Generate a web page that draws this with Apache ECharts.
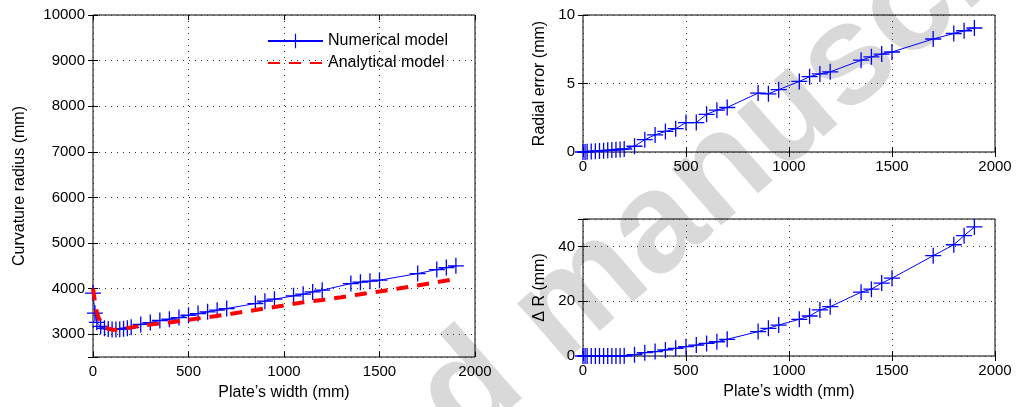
<!DOCTYPE html>
<html>
<head>
<meta charset="utf-8">
<script src="https://cdn.jsdelivr.net/npm/echarts@6/dist/echarts.min.js"></script>
<style>
html,body{margin:0;padding:0;background:#fff;}
#chart{width:1016px;height:407px;}
</style>
</head>
<body>
<div id="chart"></div>
<script>
// ---------- DATA ----------
const plateWidths = [0, 10, 20, 40, 60, 80, 100, 120, 140, 160, 180, 200, 250, 300, 350, 400, 450, 500, 550, 600, 650, 700, 850, 900, 950, 1050, 1100, 1150, 1200, 1350, 1400, 1450, 1500, 1700, 1800, 1850, 1900];
const curvatureNumerical = [3900, 3460, 3260, 3170, 3130, 3115, 3105, 3105, 3110, 3120, 3130, 3150, 3215, 3255, 3300, 3330, 3365, 3416, 3453, 3490, 3526, 3563, 3672, 3724, 3768, 3841, 3877, 3928, 3965, 4111, 4140, 4162, 4184, 4330, 4418, 4462, 4499];
const analyticalWidths = [0, 10, 20, 30, 40, 60, 80, 100, 130, 160, 200, 250, 300, 400, 500, 600, 700, 800, 900, 1000, 1100, 1200, 1300, 1400, 1500, 1600, 1700, 1800, 1900];
const curvatureAnalytical = [4000, 3720, 3480, 3350, 3270, 3170, 3120, 3100, 3100, 3120, 3150, 3180, 3210, 3258, 3318, 3373, 3433, 3497, 3563, 3630, 3698, 3750, 3810, 3876, 3938, 4003, 4070, 4140, 4215];
const radialError = [0, 0, 0.02, 0.04, 0.06, 0.08, 0.1, 0.12, 0.14, 0.16, 0.19, 0.22, 0.42, 0.9, 1.25, 1.5, 1.7, 2.15, 2.15, 2.75, 3.05, 3.25, 4.3, 4.25, 4.55, 5.15, 5.5, 5.7, 5.85, 6.7, 6.95, 7.15, 7.3, 8.25, 8.65, 8.85, 9.05];
const deltaR = [0, 0, 0, 0, 0, 0, 0, 0, 0, 0, 0, 0.1, 0.5, 1.2, 1.6, 2.2, 2.8, 3.4, 4.0, 4.6, 5.2, 6.1, 8.9, 10.1, 11.3, 13.4, 14.6, 16.8, 18.0, 23.3, 24.4, 26.6, 28.4, 36.6, 40.6, 43.9, 47.1];

const xTicksInterval = 500;
const legendNames = ['Numerical model', 'Analytical model'];
const xName = 'Plate\u2019s width (mm)';
const yNames = ['Curvature radius (mm)', 'Radial error (mm)', '\u0394 R (mm)'];
const watermarkText = 'Accepted manuscript';

// ---------- BUILD ----------
const FONT = '"Liberation Sans", Arial, Helvetica, sans-serif';
const zip = (xs, ys) => xs.map((x, i) => [x, ys[i]]);
const plusPath = 'path://M-0.65,-8L0.65,-8L0.65,-0.65L8,-0.65L8,0.65L0.65,0.65L0.65,8L-0.65,8L-0.65,0.65L-8,0.65L-8,-0.65L-0.65,-0.65Z';
const gridLine = {show: true, lineStyle: {color: '#333', width: 1, type: [1, 5]}};
const tickIn = {show: true, inside: true, length: 5, lineStyle: {color: '#000', width: 1}};

const grids = [
  {left: 93, top: 15, width: 382, height: 342},
  {left: 583, top: 15, width: 412, height: 137},
  {left: 583, top: 219, width: 412, height: 137}
].map(g => Object.assign(g, {show: true, borderColor: '#000', borderWidth: 1, backgroundColor: 'transparent', containLabel: false}));

const yRanges = [
  {min: 2500, max: 10000, splitNumber: 7, hide: [2500]},
  {min: 0, max: 10, interval: 5, hide: []},
  {min: 0, max: 50, interval: 20, hide: [50]}
];

const xAxes = [], yAxes = [];
for (let g = 0; g < 3; g++) {
  xAxes.push({
    type: 'value', gridIndex: g, min: 0, max: 2000, interval: xTicksInterval,
    axisLine: {show: false}, axisTick: tickIn, splitLine: gridLine,
    axisLabel: {color: '#000', fontFamily: FONT, fontSize: 15, margin: 7, formatter: v => String(v)},
    name: g === 1 ? '' : xName, nameLocation: 'middle', nameGap: 28,
    nameTextStyle: {color: '#000', fontFamily: FONT, fontSize: 16}
  });
  const r = yRanges[g];
  const yCfg = {
    type: 'value', gridIndex: g, min: r.min, max: r.max,
    axisLine: {show: false}, axisTick: tickIn, splitLine: gridLine,
    axisLabel: {color: '#000', fontFamily: FONT, fontSize: 15, margin: 8,
      formatter: v => (r.hide.indexOf(v) >= 0 ? '' : String(v))},
    name: yNames[g], nameLocation: 'middle', nameGap: g === 0 ? 65 : 35,
    nameTextStyle: {color: '#000', fontFamily: FONT, fontSize: 16}
  };
  if (r.interval) yCfg.interval = r.interval; else yCfg.splitNumber = r.splitNumber;
  yAxes.push(yCfg);
}
// mirror axes (ticks on top and right edges)
for (let g = 0; g < 3; g++) {
  xAxes.push({type: 'value', gridIndex: g, position: 'top', min: 0, max: 2000, interval: xTicksInterval,
    axisLine: {show: false}, axisTick: tickIn, splitLine: {show: false}, axisLabel: {show: false}});
  const r = yRanges[g];
  const yCfg = {type: 'value', gridIndex: g, position: 'right', min: r.min, max: r.max,
    axisLine: {show: false}, axisTick: tickIn, splitLine: {show: false}, axisLabel: {show: false}};
  if (r.interval) yCfg.interval = r.interval; else yCfg.splitNumber = r.splitNumber;
  yAxes.push(yCfg);
}

const numStyle = (name, xi, yi, values) => ({
  name: name, type: 'line', xAxisIndex: xi, yAxisIndex: yi,
  data: zip(plateWidths, values),
  symbol: plusPath, symbolSize: 16, showAllSymbol: true,
  itemStyle: {color: '#0000ff'},
  lineStyle: {color: '#0000ff', width: 1},
  animation: false, z: 3
});

const option = {
  animation: false,
  backgroundColor: '#fff',
  textStyle: {fontFamily: FONT},
  grid: grids,
  xAxis: xAxes,
  yAxis: yAxes,
  legend: {
    data: [legendNames[0], {name: legendNames[1], itemStyle: {opacity: 0}}],
    orient: 'vertical', left: 262, top: 28,
    itemWidth: 55, itemHeight: 18, itemGap: 6,
    textStyle: {color: '#000', fontFamily: FONT, fontSize: 16},
    selectedMode: false
  },
  graphic: [{
    type: 'text', x: 21, y: 782, rotation: 41 * Math.PI / 180, z: -10, silent: true,
    style: {text: watermarkText, fill: '#d9d9d9', font: 'bold 142px ' + FONT, textAlign: 'left', textVerticalAlign: 'middle'}
  }],
  series: [
    numStyle(legendNames[0], 0, 0, curvatureNumerical),
    {
      name: legendNames[1], type: 'line', xAxisIndex: 0, yAxisIndex: 0,
      data: zip(analyticalWidths, curvatureAnalytical),
      symbol: 'none', itemStyle: {color: '#ff0000'},
      lineStyle: {color: '#ff0000', width: 4, type: [12, 9]},
      animation: false, z: 4
    },
    numStyle('Radial error', 1, 1, radialError),
    numStyle('Delta R', 2, 2, deltaR)
  ]
};

const chart = echarts.init(document.getElementById('chart'), null, {renderer: 'canvas'});
chart.setOption(option);
</script>
</body>
</html>
